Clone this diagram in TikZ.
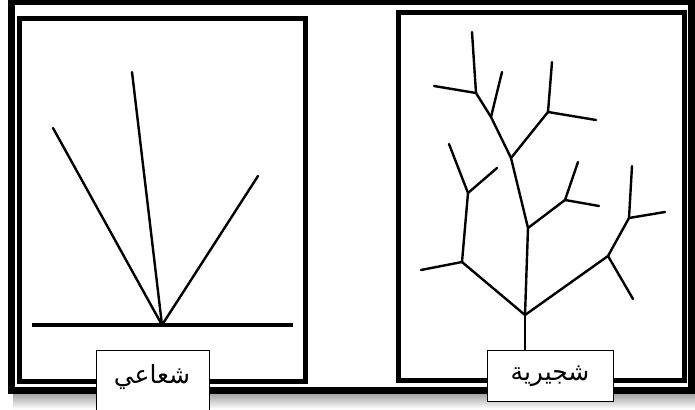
\documentclass[tikz,border=0pt]{standalone}
\usepackage{fontspec}
\newfontfamily\arabicfont[Script=Arabic]{DejaVu Sans}
\TeXXeTstate=1
\begin{document}
\begin{tikzpicture}[x=1pt,y=-1pt,
  frame/.style={draw=black,line width=5pt},
  outerframe/.style={draw=black,line width=7pt},
  branch/.style={draw=black,line width=2.4pt,line cap=round,line join=round},
  ground/.style={draw=black,line width=3.2pt},
  labelbox/.style={draw=black,line width=0.8pt,fill=white,inner sep=0pt},
  labeltext/.style={font=\arabicfont\fontsize{25}{28}\selectfont,inner sep=0pt}]
\useasboundingbox (0,0) rectangle (695,409);
\fill[white] (0,0) rectangle (695,409);
% shadow
\shade[top color=gray!70,bottom color=white] (13,394) rectangle (695,409);
% outer frame
\draw[outerframe] (11.5,2) rectangle (691.5,390.5);
% inner frames
\draw[frame] (19.5,19) rectangle (305.5,381.5);
\draw[frame] (398.5,12.5) rectangle (684.5,380.5);

% radial
\coordinate (g1) at (32,325);
\coordinate (g2) at (293,325);
\coordinate (o) at (162,325);
\coordinate (r1) at (53,128);
\coordinate (r2) at (132,72);
\coordinate (r3) at (258,176);
\draw[ground] (g1) -- (g2);
\draw[branch] (o) -- (r1);
\draw[branch] (o) -- (r2);
\draw[branch] (o) -- (r3);

% tree
\coordinate (base) at (525,350);
\coordinate (A) at (525,315);
\coordinate (B) at (462,262);
\coordinate (B1) at (421,270);
\coordinate (C) at (468,193);
\coordinate (C1) at (449,144);
\coordinate (C2) at (497,168);
\coordinate (D) at (608,256);
\coordinate (D1) at (633,299);
\coordinate (E) at (629,218);
\coordinate (E1) at (632,166);
\coordinate (E2) at (665,212);
\coordinate (F) at (528,228);
\coordinate (G) at (565,200);
\coordinate (G1) at (578,162);
\coordinate (G2) at (599,206);
\coordinate (H) at (511,158);
\coordinate (I) at (548,112);
\coordinate (I1) at (552,62);
\coordinate (I2) at (596,120);
\coordinate (J) at (491,117);
\coordinate (J1) at (502,72);
\coordinate (K) at (476,93);
\coordinate (K1) at (472,32);
\coordinate (K2) at (434,86);

\draw[branch] (base) -- (A);
\draw[branch] (A) -- (B);
\draw[branch] (B) -- (B1);
\draw[branch] (B) -- (C);
\draw[branch] (C) -- (C1);
\draw[branch] (C) -- (C2);
\draw[branch] (A) -- (D);
\draw[branch] (D) -- (D1);
\draw[branch] (D) -- (E);
\draw[branch] (E) -- (E1);
\draw[branch] (E) -- (E2);
\draw[branch] (A) -- (F);
\draw[branch] (F) -- (G);
\draw[branch] (G) -- (G1);
\draw[branch] (G) -- (G2);
\draw[branch] (F) -- (H);
\draw[branch] (H) -- (I);
\draw[branch] (I) -- (I1);
\draw[branch] (I) -- (I2);
\draw[branch] (H) -- (J);
\draw[branch] (J) -- (J1);
\draw[branch] (J) -- (K);
\draw[branch] (K) -- (K1);
\draw[branch] (K) -- (K2);

% labels
\node[labelbox,minimum width=113pt,minimum height=62pt,anchor=north west] (lradial) at (96,350) {};
\node[labeltext] (tradial) at (152,377) {\beginR شعاعي\endR};
\node[labelbox,minimum width=126pt,minimum height=51pt,anchor=north west] (ltree) at (487,350) {};
\node[labeltext] (ttree) at (550,376) {\beginR شجيرية\endR};
\end{tikzpicture}
\end{document}
